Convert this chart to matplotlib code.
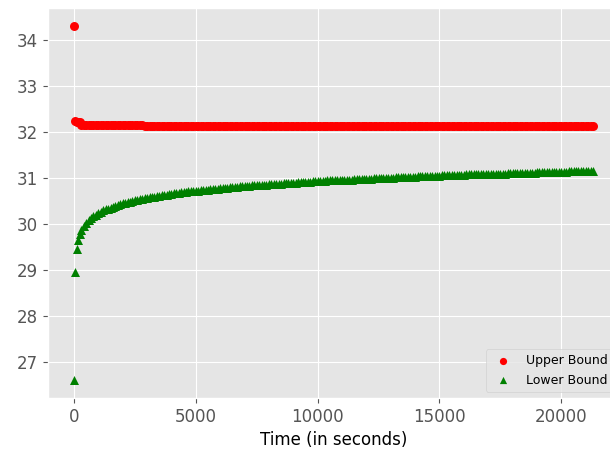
import matplotlib
matplotlib.use("Agg")
import matplotlib.pyplot as plt

plt.style.use("ggplot")

# sample times (s)
times = [0, 60, 120, 180, 240,
         300, 400, 500, 600, 700, 800, 900, 1000, 1100, 1200,
         1300, 1400, 1500, 1600, 1700, 1800, 1900, 2000, 2100, 2200,
         2300, 2400, 2500, 2600, 2700, 2800, 2900, 3000, 3100, 3200,
         3300, 3400, 3500, 3600, 3700, 3800, 3900, 4000, 4100, 4200,
         4300, 4400, 4500, 4600, 4700, 4800, 4900, 5000, 5100, 5200,
         5300, 5400, 5500, 5600, 5700, 5800, 5900, 6000, 6100, 6200,
         6300, 6400, 6500, 6600, 6700, 6800, 6900, 7000, 7100, 7200,
         7300, 7400, 7500, 7600, 7700, 7800, 7900, 8000, 8100, 8200,
         8300, 8400, 8500, 8600, 8700, 8800, 8900, 9000, 9100, 9200,
         9300, 9400, 9500, 9600, 9700, 9800, 9900, 10000, 10100, 10200,
         10300, 10400, 10500, 10600, 10700, 10800, 10900, 11000, 11100, 11200,
         11300, 11400, 11500, 11600, 11700, 11800, 11900, 12000, 12100, 12200,
         12300, 12400, 12500, 12600, 12700, 12800, 12900, 13000, 13100, 13200,
         13300, 13400, 13500, 13600, 13700, 13800, 13900, 14000, 14100, 14200,
         14300, 14400, 14500, 14600, 14700, 14800, 14900, 15000, 15100, 15200,
         15300, 15400, 15500, 15600, 15700, 15800, 15900, 16000, 16100, 16200,
         16300, 16400, 16500, 16600, 16700, 16800, 16900, 17000, 17100, 17200,
         17300, 17400, 17500, 17600, 17700, 17800, 17900, 18000, 18100, 18200,
         18300, 18400, 18500, 18600, 18700, 18800, 18900, 19000, 19100, 19200,
         19300, 19400, 19500, 19600, 19700, 19800, 19900, 20000, 20100, 20200,
         20300, 20400, 20500, 20600, 20700, 20800, 20900, 21000, 21100, 21200,
         21300]

# upper bound: a jump at t=0, then nearly flat
upper = [34.30, 32.22, 32.21, 32.21, 32.20] + [32.15] * 26 + [32.13] * 185

lower = [26.60, 28.95, 29.45, 29.65, 29.78,
         29.87, 29.96, 30.02, 30.08, 30.13, 30.17, 30.20, 30.23, 30.26, 30.29,
         30.31, 30.33, 30.35, 30.37, 30.39, 30.41, 30.43, 30.44, 30.46, 30.47,
         30.48, 30.49, 30.51, 30.52, 30.53, 30.54, 30.55, 30.56, 30.57, 30.58,
         30.59, 30.60, 30.61, 30.62, 30.62, 30.63, 30.64, 30.65, 30.66, 30.66,
         30.67, 30.68, 30.68, 30.69, 30.70, 30.70, 30.71, 30.72, 30.72, 30.73,
         30.73, 30.74, 30.74, 30.75, 30.75, 30.76, 30.76, 30.77, 30.77, 30.78,
         30.78, 30.79, 30.79, 30.80, 30.80, 30.81, 30.81, 30.82, 30.82, 30.82,
         30.83, 30.83, 30.84, 30.84, 30.84, 30.85, 30.85, 30.86, 30.86, 30.86,
         30.87, 30.87, 30.87, 30.88, 30.88, 30.88, 30.89, 30.89, 30.89, 30.90,
         30.90, 30.90, 30.91, 30.91, 30.91, 30.92, 30.92, 30.92, 30.93, 30.93,
         30.93, 30.94, 30.94, 30.94, 30.94, 30.95, 30.95, 30.95, 30.95, 30.96,
         30.96, 30.96, 30.97, 30.97, 30.97, 30.97, 30.98, 30.98, 30.98, 30.98,
         30.99, 30.99, 30.99, 30.99, 31.00, 31.00, 31.00, 31.00, 31.00, 31.01,
         31.01, 31.01, 31.01, 31.02, 31.02, 31.02, 31.02, 31.02, 31.03, 31.03,
         31.03, 31.03, 31.03, 31.04, 31.04, 31.04, 31.04, 31.04, 31.05, 31.05,
         31.05, 31.05, 31.05, 31.06, 31.06, 31.06, 31.06, 31.06, 31.07, 31.07,
         31.07, 31.07, 31.07, 31.08, 31.08, 31.08, 31.08, 31.08, 31.08, 31.09,
         31.09, 31.09, 31.09, 31.09, 31.09, 31.10, 31.10, 31.10, 31.10, 31.10,
         31.10, 31.11, 31.11, 31.11, 31.11, 31.11, 31.11, 31.12, 31.12, 31.12,
         31.12, 31.12, 31.12, 31.12, 31.13, 31.13, 31.13, 31.13, 31.13, 31.13,
         31.14, 31.14, 31.14, 31.14, 31.14, 31.14, 31.14, 31.15, 31.15, 31.15,
         31.15]

fig = plt.figure(figsize=(6.1, 4.49), dpi=100)
ax = fig.add_axes([0.0787, 0.1136, 0.936, 0.8686])

ax.scatter(times, upper, s=42, marker="o", color="red", linewidths=0,
           label="Upper Bound")
ax.scatter(times, lower, s=42, marker="^", color="green", linewidths=0,
           label="Lower Bound")

ax.set_xticks([0, 5000, 10000, 15000, 20000])
ax.set_yticks([27, 28, 29, 30, 31, 32, 33, 34])
ax.tick_params(labelsize=12, colors="#555555")
ax.set_xlabel("Time (in seconds)", fontsize=12, color="black")
ax.legend(loc="lower right", fontsize=9, markerscale=0.8)

fig.savefig("out.png", dpi=100)
